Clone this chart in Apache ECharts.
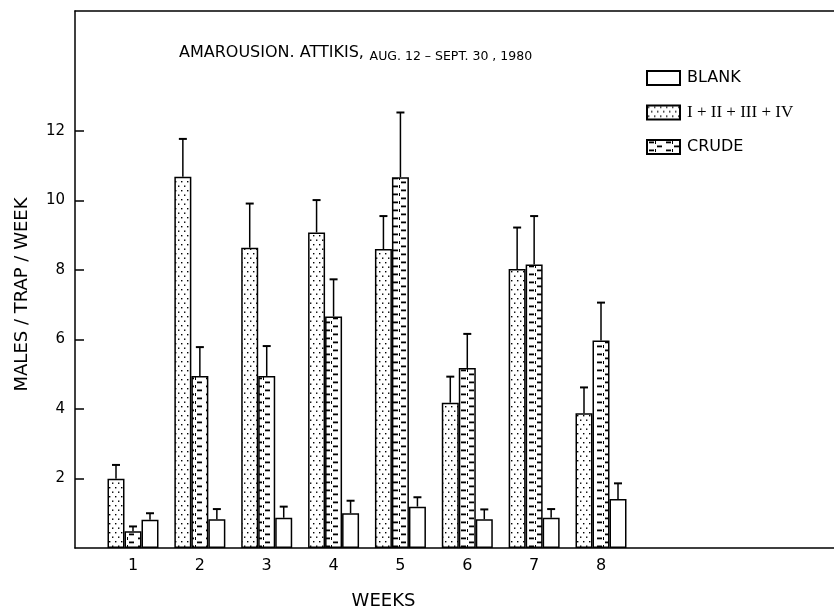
<!DOCTYPE html>
<html>
<head>
<meta charset="utf-8">
<script src="https://cdn.jsdelivr.net/npm/echarts@6/dist/echarts.min.js"></script>
<style>
html,body{margin:0;padding:0;background:#fff;}
#chart{width:834px;height:609px;}
</style>
</head>
<body>
<div id="chart"></div>
<script>
// ---- data ----
const weeks = [1, 2, 3, 4, 5, 6, 7, 8];
const yTicks = [2, 4, 6, 8, 10, 12];
const mixValues   = [1.99, 10.68, 8.64, 9.08, 8.6, 4.18, 8.03, 3.88];
const mixErrTop   = [2.39, 11.77, 9.91, 10.01, 9.55, 4.93, 9.22, 4.62];
const crudeValues = [0.48, 4.95, 4.95, 6.66, 10.67, 5.18, 8.16, 5.97];
const crudeErrTop = [0.62, 5.78, 5.81, 7.73, 12.53, 6.16, 9.55, 7.06];
const blankValues = [0.81, 0.83, 0.87, 1.0, 1.19, 0.83, 0.87, 1.41];
const blankErrTop = [1.0, 1.12, 1.19, 1.36, 1.46, 1.11, 1.12, 1.86];
const seriesNames = ['BLANK', 'I + II + III + IV', 'CRUDE'];

// ---- patterns ----
function makeCanvas(w, h, draw) {
  const c = document.createElement('canvas');
  c.width = w; c.height = h;
  const ctx = c.getContext('2d');
  ctx.fillStyle = '#fff';
  ctx.fillRect(0, 0, w, h);
  ctx.fillStyle = '#000';
  draw(ctx);
  return c;
}
const dotCanvas = makeCanvas(6, 9, ctx => {
  ctx.fillRect(1, 1, 1.4, 1.4);
  ctx.fillRect(4, 5.5, 1.4, 1.4);
});
const dashCanvas = makeCanvas(17, 8, ctx => {
  ctx.fillRect(2, 1.5, 5, 1.8);
  ctx.fillRect(10, 5.5, 5, 1.8);
  ctx.fillRect(8, 1, 1, 3);
});
const dotPattern = { image: dotCanvas, repeat: 'repeat' };
const dashPattern = { image: dashCanvas, repeat: 'repeat' };

function pairs(vals) { return weeks.map((w, i) => [w, vals[i]]); }
function errData(vals, tops) { return weeks.map((w, i) => [w, vals[i], tops[i]]); }

function errSeries(vals, tops, offset) {
  return {
    type: 'custom',
    silent: true,
    xAxisIndex: 0, yAxisIndex: 0,
    data: errData(vals, tops),
    encode: { x: 0, y: [1, 2] },
    z: 5,
    renderItem: function (params, api) {
      const p0 = api.coord([api.value(0), api.value(1)]);
      const p1 = api.coord([api.value(0), api.value(2)]);
      const x = p0[0] + offset;
      return {
        type: 'group',
        children: [
          { type: 'line', shape: { x1: x, y1: p0[1], x2: x, y2: p1[1] },
            style: { stroke: '#000', lineWidth: 1.5 } },
          { type: 'line', shape: { x1: x - 4, y1: p1[1], x2: x + 4, y2: p1[1] },
            style: { stroke: '#000', lineWidth: 2 } }
        ]
      };
    }
  };
}

const barBase = {
  type: 'bar',
  barWidth: 17,
  barGap: '0%',
  xAxisIndex: 0, yAxisIndex: 0
};

const chart = echarts.init(document.getElementById('chart'));
chart.setOption({
  backgroundColor: '#fff',
  animation: false,
  textStyle: { fontFamily: 'DejaVu Sans', color: '#000' },
  title: {
    left: 174, top: 38,
    text: '{a|AMAROUSION. ATTIKIS,} {b|AUG. 12 – SEPT. 30 , 1980}',
    textStyle: {
      fontWeight: 'normal',
      rich: {
        a: { fontFamily: 'DejaVu Sans', fontSize: 16, fontWeight: 'normal', color: '#000', verticalAlign: 'bottom' },
        b: { fontFamily: 'DejaVu Sans', fontSize: 12.5, fontWeight: 'normal', color: '#000', verticalAlign: 'bottom', padding: [0, 0, -2, 0] }
      }
    }
  },
  legend: {
    orient: 'vertical',
    left: 641, top: 65,
    itemWidth: 33, itemHeight: 14,
    itemGap: 18,
    icon: 'rect',
    data: [
      { name: 'BLANK', textStyle: { fontFamily: 'DejaVu Sans', fontSize: 16 } },
      { name: 'I + II + III + IV', textStyle: { fontFamily: 'Liberation Serif', fontSize: 17 } },
      { name: 'CRUDE', textStyle: { fontFamily: 'DejaVu Sans', fontSize: 16 } }
    ],
    textStyle: { color: '#000', fontSize: 16, padding: [0, 0, 0, 2] }
  },
  grid: { left: 75, right: 0, top: 11, bottom: 61, containLabel: false, outerBoundsMode: 'none' },
  xAxis: [
    {
      type: 'value', position: 'bottom',
      min: 0.1325, max: 11.485,
      name: 'WEEKS', nameLocation: 'middle', nameGap: 44,
      nameTextStyle: { fontSize: 18, color: '#000', padding: [0, 142, 0, 0] },
      axisLine: { show: true, lineStyle: { color: '#000', width: 1.5 } },
      axisTick: { show: false },
      splitLine: { show: false },
      axisLabel: { customValues: weeks, color: '#000', fontSize: 16, margin: 10 }
    },
    {
      type: 'value', position: 'top',
      min: 0.1325, max: 11.485,
      axisLine: { show: true, lineStyle: { color: '#000', width: 1.5 } },
      axisTick: { show: false }, axisLabel: { show: false }, splitLine: { show: false }
    }
  ],
  yAxis: {
    type: 'value', min: 0, max: 15.45,
    name: 'MALES / TRAP / WEEK', nameLocation: 'middle', nameRotate: 90, nameGap: 44,
    nameTextStyle: { fontSize: 18, color: '#000', padding: [0, 30, 0, 0] },
    axisLine: { show: true, lineStyle: { color: '#000', width: 1.5 } },
    axisTick: { show: true, inside: true, length: 9, customValues: yTicks, lineStyle: { color: '#000', width: 1.5 } },
    axisLabel: { customValues: yTicks, color: '#000', fontSize: 15, margin: 10 },
    splitLine: { show: false }
  },
  series: [
    Object.assign({}, barBase, {
      name: 'I + II + III + IV', data: pairs(mixValues),
      itemStyle: { color: dotPattern, borderColor: '#000', borderWidth: 1.5 }
    }),
    Object.assign({}, barBase, {
      name: 'CRUDE', data: pairs(crudeValues),
      itemStyle: { color: dashPattern, borderColor: '#000', borderWidth: 1.5 }
    }),
    Object.assign({}, barBase, {
      name: 'BLANK', data: pairs(blankValues),
      itemStyle: { color: '#fff', borderColor: '#000', borderWidth: 1.5 }
    }),
    errSeries(mixValues, mixErrTop, -17),
    errSeries(crudeValues, crudeErrTop, 0),
    errSeries(blankValues, blankErrTop, 17)
  ]
});
</script>
</body>
</html>
